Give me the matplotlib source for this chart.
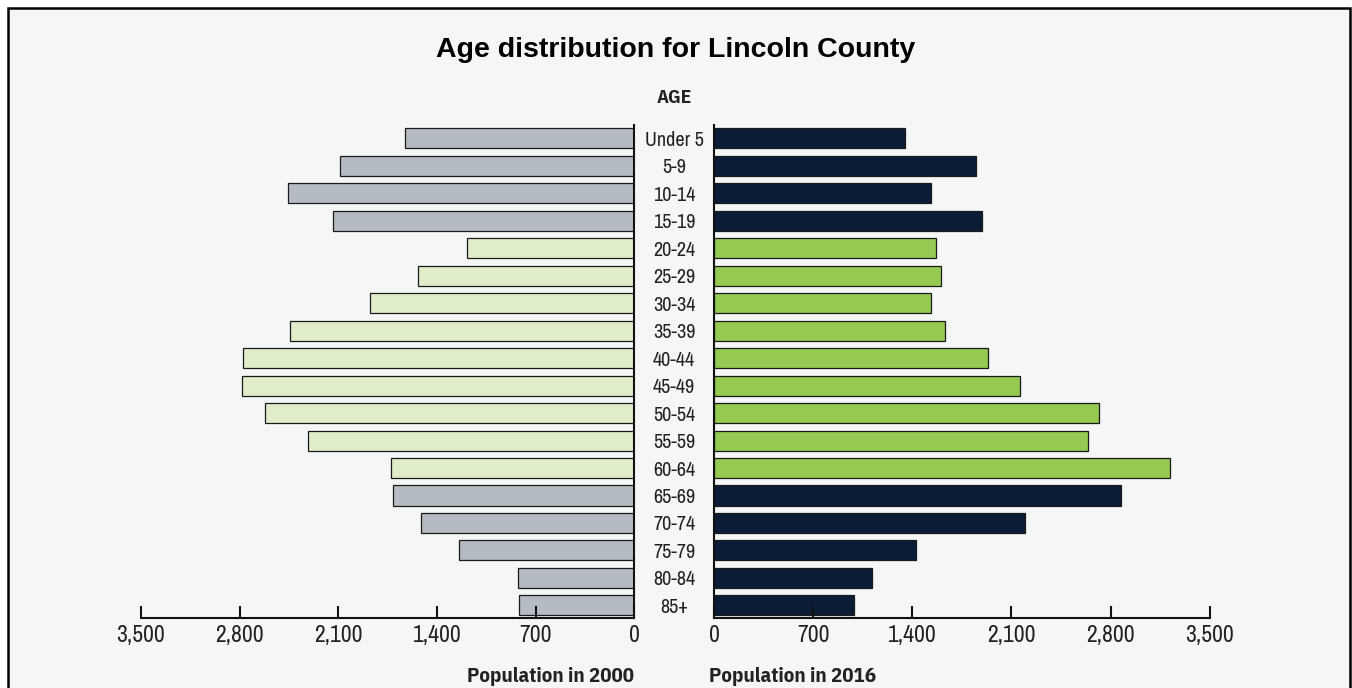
import matplotlib
matplotlib.use("Agg")
import matplotlib.pyplot as plt
from matplotlib.patches import Rectangle

# ---------------- data ----------------
ages = ["Under 5", "5-9", "10-14", "15-19", "20-24", "25-29", "30-34", "35-39",
        "40-44", "45-49", "50-54", "55-59", "60-64", "65-69", "70-74", "75-79",
        "80-84", "85+"]
pop_2000 = [1625, 2086, 2455, 2136, 1185, 1535, 1873, 2441, 2774, 2783, 2620,
            2313, 1726, 1710, 1516, 1244, 825, 820]
pop_2016 = [1350, 1853, 1531, 1890, 1564, 1604, 1531, 1631, 1934, 2158, 2719,
            2638, 3216, 2873, 2193, 1426, 1113, 986]
age_group = ["dependent"] * 4 + ["working"] * 9 + ["dependent"] * 5
x_ticks = [0, 700, 1400, 2100, 2800, 3500]
title = "Age distribution for Lincoln County"
label_left = "Population in 2000"
label_right = "Population in 2016"
axis_title = "AGE"

# ---------------- style ----------------
W, H = 1352, 688
BG = "#f5f7f7"
colors_2000 = {"dependent": "#b5bbc3", "working": "#e0edcb"}
colors_2016 = {"dependent": "#0b1d36", "working": "#95c952"}
NARROW = ["Archivo Narrow", "DejaVu Sans"]
NARROW_BOLD = ["IBM Plex Sans Condensed", "DejaVu Sans"]
EDGE = "#1a1a1a"
TXT = "#222222"

fig = plt.figure(figsize=(W / 100, H / 100), dpi=100, facecolor="white")

# background panel with black frame (bottom edge cut off)
frame = Rectangle((7.5 / W, -0.02), (1349.5 - 7.5) / W, (H - 7.5) / H + 0.02,
                  transform=fig.transFigure, facecolor=BG, edgecolor="black",
                  linewidth=1.8, zorder=-10)
fig.patches.append(frame)

ax_bottom = 69.7 / H
ax_height = 493.3 / H
axL = fig.add_axes([141 / W, ax_bottom, 493.3 / W, ax_height])
axR = fig.add_axes([714 / W, ax_bottom, 495.8 / W, ax_height])

y = list(range(len(ages)))
axL.barh(y, pop_2000, height=0.73, color=[colors_2000[g] for g in age_group],
         edgecolor=EDGE, linewidth=0.9)
axR.barh(y, pop_2016, height=0.73, color=[colors_2016[g] for g in age_group],
         edgecolor=EDGE, linewidth=0.9)

for ax in (axL, axR):
    ax.set_facecolor("none")
    ax.set_ylim(17.47, -0.485)
    ax.set_xticks(x_ticks)
    ax.set_xticklabels([f"{v:,}" for v in x_ticks], family=NARROW, fontsize=17,
                       color=TXT)
    ax.tick_params(axis="x", direction="in", length=8.5, width=1.5, pad=5,
                   color="#111111")
    ax.spines["top"].set_visible(False)
    ax.spines["bottom"].set_linewidth(1.5)
    ax.spines["bottom"].set_color("#111111")

axL.set_xlim(3500, 0)
axR.set_xlim(0, 3500)

axL.spines["left"].set_visible(False)
axL.spines["right"].set_linewidth(1.5)
axL.spines["right"].set_color("#111111")
axL.set_yticks([])

axR.spines["right"].set_visible(False)
axR.spines["left"].set_linewidth(1.5)
axR.spines["left"].set_color("#111111")
axR.set_yticks(y)
axR.set_yticklabels(ages, family=NARROW, fontsize=14.5, color=TXT)
axR.tick_params(axis="y", length=0, pad=28.8)
for lbl in axR.get_yticklabels():
    lbl.set_horizontalalignment("center")

fig.text(676 / W, 1 - 57 / H, title, ha="center", va="baseline",
         family=["Liberation Sans", "DejaVu Sans"], fontweight="bold",
         fontsize=20.5, color="black")
fig.text(674 / W, 1 - 98 / H, axis_title, ha="center", va="center",
         family=NARROW_BOLD, fontweight="bold", fontsize=14, color=TXT)
fig.text(634 / W, 1 - 682 / H, label_left, ha="right", va="baseline",
         family=NARROW_BOLD, fontweight="bold", fontsize=15, color=TXT)
fig.text(709 / W, 1 - 682 / H, label_right, ha="left", va="baseline",
         family=NARROW_BOLD, fontweight="bold", fontsize=15, color=TXT)

fig.savefig("out.png", dpi=100, facecolor="white")
